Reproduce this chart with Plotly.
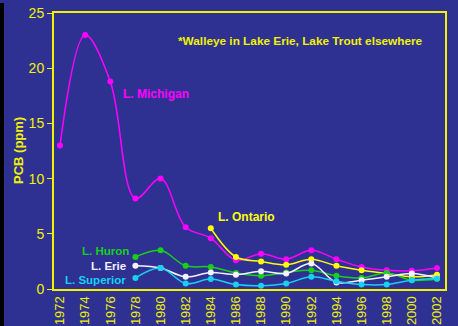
import plotly.graph_objects as go

years = list(range(1972, 2003, 2))

# PCB concentration in fish (ppm) by lake; None = no sample that year
michigan = [13.0, 23.0, 18.8, 8.2, 10.0, 5.6, 4.6, 2.6, 3.2, 2.7, 3.5, 2.7, 2.0, 1.7, 1.65, 1.9]
ontario = [None, None, None, None, None, None, 5.5, 2.9, 2.5, 2.2, 2.7, 2.1, 1.7, 1.4, 1.1, 1.3]
huron = [None, None, None, 2.9, 3.5, 2.1, 2.0, 1.45, 1.2, 1.5, 1.7, 1.2, 1.0, 1.45, 0.8, 0.9]
erie = [None, None, None, 2.1, 1.9, 1.1, 1.5, 1.3, 1.6, 1.4, 2.3, 0.6, 0.8, 1.1, 1.4, 1.0]
superior = [None, None, None, 1.0, 1.9, 0.5, 0.9, 0.4, 0.3, 0.5, 1.1, 0.7, 0.4, 0.4, 0.8, 0.95]

BG = "#2E3192"
YEL = "#F2F200"
series = [
    ("L. Michigan", michigan, "#FF00FF"),
    ("L. Ontario", ontario, "#FFFF00"),
    ("L. Huron", huron, "#18D018"),
    ("L. Erie", erie, "#F2F2FF"),
    ("L. Superior", superior, "#18D0F0"),
]

fig = go.Figure()
for name, vals, col in series:
    fig.add_trace(go.Scatter(
        x=years, y=vals, name=name, mode="lines+markers",
        line=dict(color=col, width=1.5, shape="spline", smoothing=1.0),
        marker=dict(color=col, size=6),
        connectgaps=False, showlegend=False, cliponaxis=False,
    ))

FONT = "Liberation Sans, Arial, sans-serif"
labels = [
    ("L. Michigan", 1979.64, 17.66, "center", "#FF00FF", 12),
    ("L. Ontario", 1984.49, 6.52, "left", "#FFFF00", 12),
    ("L. Huron", 1977.57, 3.40, "right", "#18D018", 11.5),
    ("L. Erie", 1977.33, 2.12, "right", "#F2F2FF", 11.5),
    ("L. Superior", 1977.33, 0.80, "right", "#18D0F0", 11.5),
    ("*Walleye in Lake Erie, Lake Trout elsewhere", 1981.3, 22.46, "left", YEL, 11.8),
]
for txt, x, y, anchor, col, size in labels:
    fig.add_annotation(x=x, y=y, text=f"<b>{txt}</b>", showarrow=False,
                       xanchor=anchor, yanchor="middle", borderpad=0,
                       font=dict(family=FONT, size=size, color=col))

fig.add_annotation(x=(18 - 54) / 391, y=0.5, xref="paper", yref="paper",
                   text="<b>PCB (ppm)</b>", textangle=-90, showarrow=False,
                   xanchor="center", yanchor="middle",
                   font=dict(family=FONT, size=13, color=YEL))

# black strip along the left edge of the page
fig.add_shape(type="rect", xref="paper", yref="paper",
              x0=-54 / 391, x1=-50 / 391, y0=-37 / 276, y1=1 + 10 / 276,
              fillcolor="#000000", line_width=0, layer="above")

fig.update_layout(
    width=458, height=326,
    margin=dict(l=54, r=13, t=13, b=37, autoexpand=False),
    paper_bgcolor=BG, plot_bgcolor=BG,
    font=dict(family=FONT, color=YEL),
    xaxis=dict(range=[1971.52, 2002.64], tickvals=years, ticktext=[str(y) for y in years],
               tickangle=-90, tickfont=dict(size=13, color=YEL), showgrid=False,
               zeroline=False, showline=True, linecolor=YEL, linewidth=2, mirror=True,
               ticks="", automargin=False),
    yaxis=dict(range=[0, 25], tickvals=[0, 5, 10, 15, 20, 25], tickfont=dict(size=14, color=YEL),
               showgrid=False, zeroline=False, showline=True, linecolor=YEL, linewidth=2,
               mirror=True, ticks="outside", ticklen=5, tickcolor=YEL, tickwidth=1,
               automargin=False),
)

fig.write_html("out.html")
